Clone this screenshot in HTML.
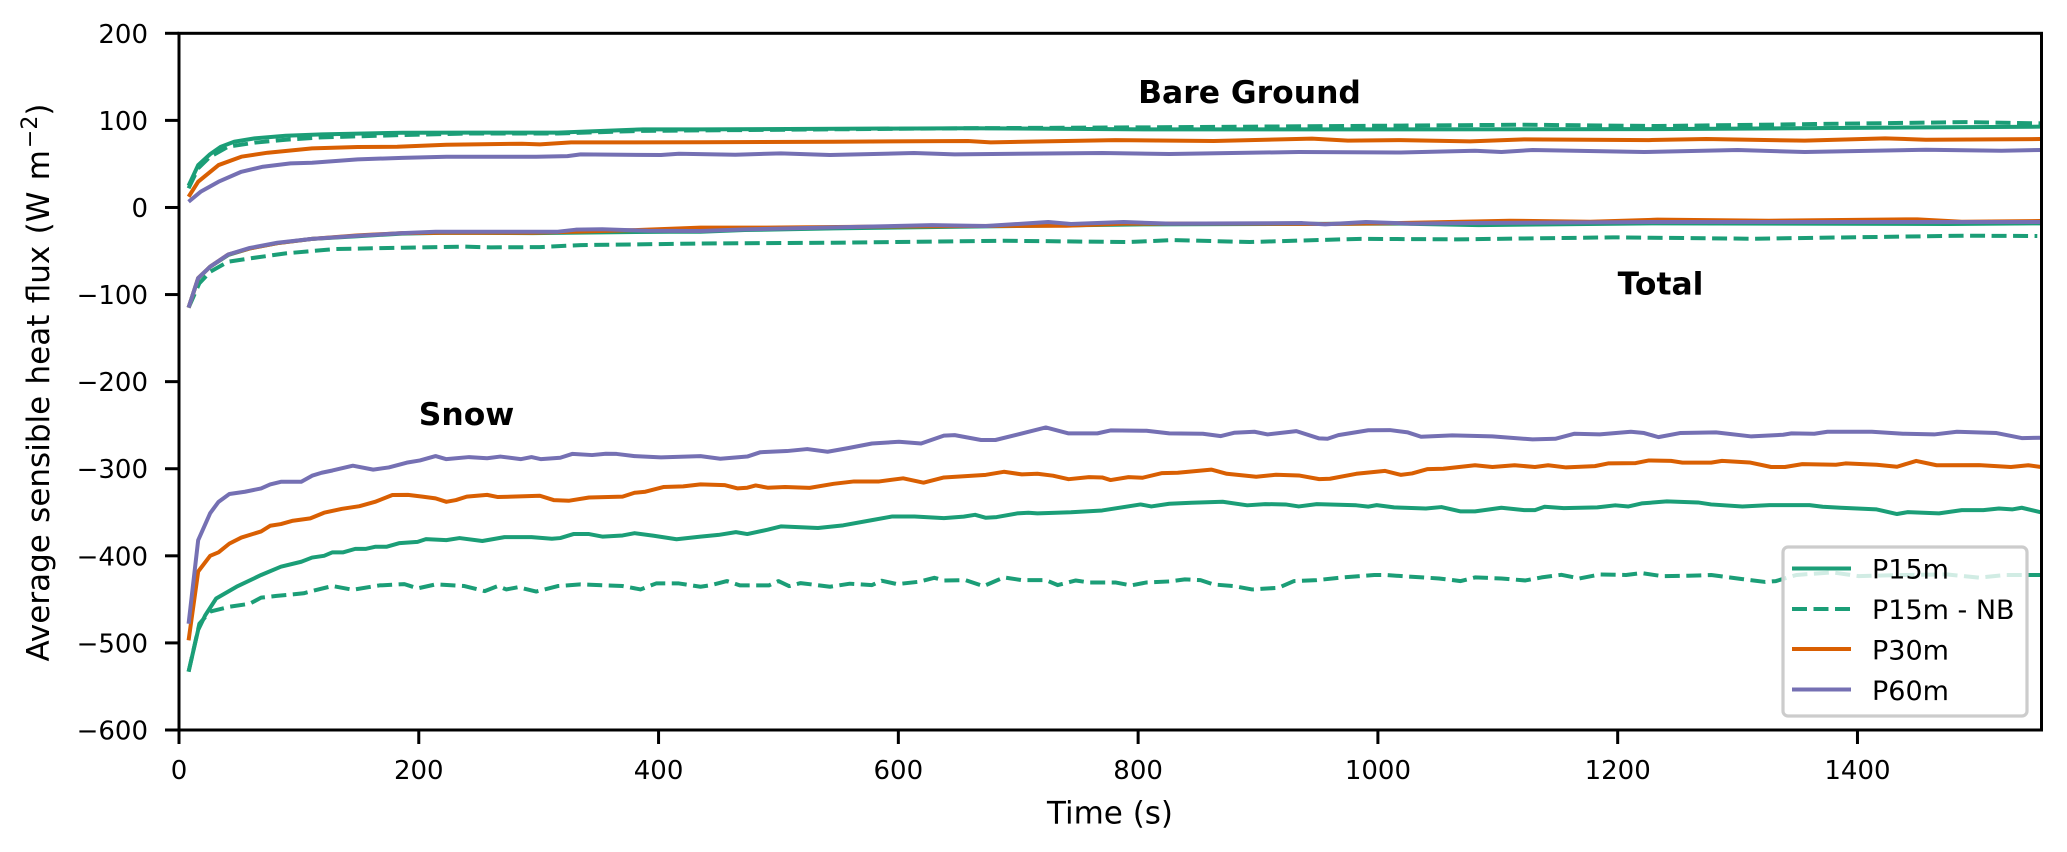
<!DOCTYPE html>
<html lang="en">
<head>
<meta charset="utf-8">
<title>Average sensible heat flux</title>
<style>
html,body{margin:0;padding:0;background:#fff;}
svg{display:block;}
text{font-family:"DejaVu Sans","Liberation Sans",sans-serif;fill:#000;}
</style>
</head>
<body>
<svg id="chart" xmlns="http://www.w3.org/2000/svg" width="2067" height="852" viewBox="0 0 2067 852">
  <defs><clipPath id="plot-clip"><rect x="179" y="33.3" width="1862.5" height="696.7"/></clipPath></defs>
  <rect x="0" y="0" width="2067" height="852" fill="#fff"/>
  <g id="series-layer" clip-path="url(#plot-clip)"></g>
  <g id="tick-layer"></g>
  <rect x="179" y="33.3" width="1862.5" height="696.7" fill="none" stroke="#000" stroke-width="3"/>
  <text x="1110" y="823.5" font-size="31" text-anchor="middle">Time (s)</text>
  <text transform="translate(49 382.5) rotate(-90)" font-size="31" word-spacing="1.5" text-anchor="middle">Average sensible heat flux (W m<tspan font-size="22" dx="2" dy="-12">−2</tspan><tspan dy="12">)</tspan></text>
  <g id="annotation-layer"></g>
  <g>
    <rect x="1783" y="547" width="244" height="169" rx="5" ry="5" fill="#fff" fill-opacity="0.8" stroke="#ccc" stroke-width="3.2"/>
    <g>
      <line x1="1792" y1="568.5" x2="1851" y2="568.5" stroke="#1b9e77" stroke-width="4"/>
      <text x="1872" y="578.5" font-size="27">P15m</text>
    </g>
    <g>
      <line x1="1792" y1="609" x2="1851" y2="609" stroke="#1b9e77" stroke-width="4" stroke-dasharray="15 6.5"/>
      <text x="1872" y="619" font-size="27">P15m - NB</text>
    </g>
    <g>
      <line x1="1792" y1="649" x2="1851" y2="649" stroke="#d95f02" stroke-width="4"/>
      <text x="1872" y="659.5" font-size="27">P30m</text>
    </g>
    <g>
      <line x1="1792" y1="689.5" x2="1851" y2="689.5" stroke="#7570b3" stroke-width="4"/>
      <text x="1872" y="700" font-size="27">P60m</text>
    </g>
  </g>
</svg>
<script>
const xTickLabels = [0, 200, 400, 600, 800, 1000, 1200, 1400];
const yTickLabels = [200, 100, 0, -100, -200, -300, -400, -500, -600];
const xDomain = [0, 1553.5];
const yDomain = [-600, 200];

/* Bare ground */
const bareP15Times = [8,16,26,35,46,63,89,119,186,242,316,387,435,658,807,1019,1233,1553];
const bareP15Values = [25,48.7,61.3,69.8,75.5,79.3,82.4,84,85.8,86,86,89.7,89.7,91,89.7,89.7,90,92.8];
const bareNbTimes = [8,16,26,41,63,89,119,186,242,316,387,435,658,807,1019,1122,1233,1364,1490,1553];
const bareNbValues = [22,45,58.3,69.8,74.4,77.8,80.5,83.2,85,85,88,88.5,91,92,94,95,93.5,95.8,98,96.6];
const bareP30Times = [8,16,33,52,74,111,149,182,223,286,301,327,435,546,658,677,781,863,945,975,1019,1077,1122,1226,1274,1356,1423,1457,1553];
const bareP30Values = [12.3,29.6,48.7,58.3,62.9,67.9,69.4,69.8,72,73.2,72.4,74.7,74.9,75.5,76.3,74.8,77.4,76.3,79,76.7,77.4,75.9,78.2,77.4,78.6,76.7,79.4,77.8,78.6];
const bareP60Times = [8,18,33,52,70,93,111,149,186,223,298,324,335,402,417,435,464,502,543,613,647,770,826,934,1019,1081,1103,1129,1222,1300,1356,1457,1520,1553];
const bareP60Values = [6.6,18,29.6,41,46.8,50.6,51.4,55.2,57,58.3,58.3,59,61,60.2,61.7,61.3,60.6,62.1,60.2,62.5,61,62.5,61.4,63.7,63.1,65.2,63.7,66,63.7,66,63.7,66.3,65.2,66];

/* Total */
const totalP15Times = [8,16,26,41,59,82,111,149,186,223,295,409,435,472,546,673,807,1019,1084,1230,1475,1553];
const totalP15Values = [-115,-81.4,-68,-54.6,-47,-41,-36,-33,-30,-29,-29.4,-27.8,-27.8,-25.9,-24,-21.7,-19.4,-18.6,-20.2,-18.2,-19,-18.2];
const totalNbTimes = [8,17,26,41,59,89,130,186,238,260,301,335,435,546,688,792,830,893,986,1066,1196,1312,1490,1550];
const totalNbValues = [-115,-87,-73.8,-62.3,-58.5,-52.7,-47.7,-46.2,-45,-45.8,-45.5,-43.2,-41.4,-40.5,-38.2,-39.7,-37.4,-39.7,-36,-36.6,-34.3,-35.9,-32.4,-32.8];
const totalP30Times = [8,16,26,41,59,82,111,149,186,223,295,380,435,490,584,658,740,788,882,956,1019,1110,1177,1233,1326,1450,1487,1553];
const totalP30Values = [-115,-81,-68,-54,-47,-41,-36,-32,-29.5,-29,-29,-26,-23.2,-23.2,-22,-21.3,-21,-18.6,-18.6,-19,-17.9,-15.2,-16.4,-14,-15.2,-13.6,-16.4,-15.6];
const totalP60Times = [8,16,26,41,59,82,111,149,186,214,268,316,331,353,391,435,472,546,628,673,725,744,788,826,937,956,990,1028,1077,1230,1364,1553];
const totalP60Values = [-115,-81,-68,-54,-46.5,-40.5,-36,-32.5,-29.5,-27.8,-27.8,-27.8,-25.5,-25,-26.7,-27,-25.1,-22.9,-20.2,-21.3,-16.7,-19,-16.7,-18.6,-17.9,-19.4,-16.7,-18.6,-17.9,-16.7,-16.7,-16.7];

/* Snow */
const snowP15Times = [8,16,22,31,48,68.5,85,102,111,121,128,137,147,156,163.5,173,184,199,206,223,234,253,271.5,294,311,318,329,342,353.5,370,380,396,415,435,450,464.5,474,491,502,533,554,578,595,613.5,638,654.5,664,673,682,699,708.5,716,744,770,802,811,826,844.5,870.5,891,906,923,934,949,982,992,999,1013.5,1040,1053,1069,1081,1103,1122,1131,1139,1155,1183,1198,1209,1220,1241,1267,1278,1304,1326.5,1360,1371,1386,1416,1433,1442,1468,1487,1505,1518,1529,1537,1553];
const snowP15Values = [-533,-485,-468,-449,-435.5,-422,-412.5,-406.8,-402,-400,-396,-396,-392,-392,-389.6,-389.6,-385.4,-384,-380.8,-382,-379.6,-383,-378.5,-378.5,-380.4,-379.6,-375,-375,-378,-376.6,-374,-377,-381,-378,-376,-372.8,-375,-370,-366.2,-368,-365,-359,-354.8,-354.8,-356.7,-355,-352.9,-356.3,-355.5,-351.3,-350.5,-351.3,-350,-347.9,-341,-343.3,-340.2,-339,-337.9,-342,-340.6,-341,-343.3,-340.6,-342,-343.5,-341.8,-344.4,-345.6,-344,-349,-349,-344.8,-347.5,-347.5,-343.7,-345.2,-344.4,-342,-343.3,-339.8,-337.5,-338.7,-341,-343.3,-341.8,-341.8,-343.7,-344.8,-346.7,-352,-349.8,-351.3,-347.5,-347.5,-345.6,-346.7,-344.8,-350];
const snowNbTimes = [8,17,26,42,59,68.5,81.5,104,115,128,145,167,188,199,214,238,255,266,273,283,298,316,335,357,370,385,398,417,435,444,457,468,492,500,509,518.5,543,559.5,578,586,599,617,630,638,656,671,688,703,723,733,748,759,781,794,807,826,839,852,863,880,895,917,930,949,971,997,1006,1028,1051,1069,1081,1103,1123,1136.5,1153,1168,1185,1207,1220,1237,1259,1278,1304,1323,1332,1349,1379,1401,1438,1475,1501.5,1524,1553];
const snowNbValues = [-533,-478,-464,-458.5,-455,-448,-446,-443,-439,-434.7,-439,-434,-432.5,-437.4,-432.8,-434.7,-440.5,-434.7,-438.6,-436,-441,-434.7,-432.8,-434,-434.7,-438.6,-431.7,-431.7,-435.5,-433.6,-429,-434,-434,-429,-434.8,-431.3,-435.5,-432,-433.6,-428.6,-432.5,-429.8,-425.2,-428.3,-427.9,-434.8,-424.8,-427.9,-427.9,-433.6,-428.3,-430.6,-430.6,-434,-430.6,-429.4,-427,-427.9,-432.9,-434.8,-438.6,-436.7,-429,-427.9,-424.8,-422,-422,-424,-426,-429,-424.8,-426,-428.3,-424.8,-421.8,-426,-421.4,-422,-419.8,-423.3,-422.9,-422,-426.7,-430,-429,-422,-419,-423.3,-422,-421.4,-425,-422,-422];
const snowP30Times = [8,16,26,33,42,52,68.5,76,85,95,109.5,121,136,150.5,163.5,178,191,203,214,223,231,240,257,266,301,312.5,325.5,342,370,380,389,404,420.5,435,455,466,474,481,491,505.5,526,546,563,584,604,621,638,658,673,688,703,716,729,742,759,770,777,792,803.5,820,833,861,874,898.5,915,934,951,960,982,1006,1019,1028.5,1041.5,1054.5,1081,1095.5,1114,1131,1142,1157,1181,1192,1215,1226,1244.5,1254,1278,1287,1310,1328,1339.5,1354,1382,1390,1416,1433,1449,1466,1501.5,1528,1542.5,1553];
const snowP30Values = [-497,-418,-400,-396,-386,-379,-372,-365.5,-363.5,-359.7,-357,-350.5,-346,-343,-338,-330.2,-330,-332,-334,-338,-336,-332,-330,-332.5,-331,-336,-336.7,-333,-332,-327.6,-326.4,-321,-320.3,-318,-318.8,-322.6,-321.8,-319.2,-321.8,-321,-322,-317.3,-314.6,-314.6,-311,-316,-310,-308.4,-307,-303.5,-306.5,-305.8,-308,-312,-309.6,-310,-313,-309.6,-310.4,-305,-304.6,-301,-305.8,-309.2,-306.9,-307.7,-311.9,-311.5,-305.8,-302.5,-307,-305.4,-300.4,-300,-296,-298,-296,-298,-296,-298.5,-297,-293.9,-293.5,-290.5,-291,-293,-293,-291,-292.8,-298,-298,-294.7,-295.4,-293.9,-295.4,-297.7,-291,-296,-295.8,-298,-296,-298];
const snowP60Times = [8,16,26,33,42,55,68.5,76,85,102,111,119,128,145,162,175,190,201,214,223,242,257,268,285,294,302,318,328,344.5,356,365,380,402,435,451.5,474,485,507,524,541,558,578,600.5,619,638,647,669,681,723,742,766,777,807,826,854,869,880,897,908,932,951,958,967,992,1010,1025,1036,1062,1095.5,1129,1148,1164,1185,1211,1222,1234,1252,1282,1311.5,1338,1345,1364,1375,1412,1438,1464,1483,1516,1537,1553];
const snowP60Values = [-478,-382,-351,-338,-329,-326.4,-322.6,-318,-315,-315,-308,-304.6,-302,-296.5,-301,-298.5,-293,-290.5,-285.5,-289,-286.6,-288,-286,-289,-286.6,-289,-287.4,-283,-284.3,-282.8,-283,-285.5,-287,-285.5,-288.5,-286,-281,-279.7,-277.4,-280.5,-276.3,-271,-269,-271,-262,-261.4,-267,-267,-252.6,-259.4,-259.4,-256,-256.4,-259.4,-259.8,-262.5,-258.7,-257.5,-260.6,-256.8,-265.2,-265.6,-261.4,-255.8,-255.6,-258.3,-263.3,-261.7,-262.9,-266.3,-265.6,-259.8,-260.6,-257.5,-259,-263.7,-259,-258.3,-262.9,-261,-259.4,-259.8,-257.5,-257.5,-259.8,-260.6,-257.5,-259,-264.8,-264.4];

const seriesColors = {p15: '#1b9e77', nb: '#1b9e77', p30: '#d95f02', p60: '#7570b3'};

const plotLeft = 179, plotRight = 2041.5, plotTop = 33.3, plotBottom = 730;
const xScale = t => plotLeft + (t - xDomain[0]) / (xDomain[1] - xDomain[0]) * (plotRight - plotLeft);
const yScale = v => plotBottom - (v - yDomain[0]) / (yDomain[1] - yDomain[0]) * (plotBottom - plotTop);

const NS = 'http://www.w3.org/2000/svg';
const seriesLayer = document.getElementById('series-layer');
const tickLayer = document.getElementById('tick-layer');
const annotationLayer = document.getElementById('annotation-layer');

function drawSeries(name, times, values, key, dashed) {
  const path = document.createElementNS(NS, 'path');
  
  
  path.setAttribute('d', times.map((t, i) => (i ? 'L' : 'M') + xScale(t).toFixed(2) + ' ' + yScale(values[i]).toFixed(2)).join(' '));
  path.setAttribute('fill', 'none');
  path.setAttribute('stroke', seriesColors[key]);
  path.setAttribute('stroke-width', '4');
  path.setAttribute('stroke-linejoin', 'round');
  if (dashed) path.setAttribute('stroke-dasharray', '15 6.5');
  seriesLayer.appendChild(path);
}

drawSeries('bare-ground-p15m-line', bareP15Times, bareP15Values, 'p15', false);
drawSeries('bare-ground-p15m-nb-line', bareNbTimes, bareNbValues, 'nb', true);
drawSeries('bare-ground-p30m-line', bareP30Times, bareP30Values, 'p30', false);
drawSeries('bare-ground-p60m-line', bareP60Times, bareP60Values, 'p60', false);
drawSeries('total-p15m-line', totalP15Times, totalP15Values, 'p15', false);
drawSeries('total-p15m-nb-line', totalNbTimes, totalNbValues, 'nb', true);
drawSeries('total-p30m-line', totalP30Times, totalP30Values, 'p30', false);
drawSeries('total-p60m-line', totalP60Times, totalP60Values, 'p60', false);
drawSeries('snow-p15m-line', snowP15Times, snowP15Values, 'p15', false);
drawSeries('snow-p15m-nb-line', snowNbTimes, snowNbValues, 'nb', true);
drawSeries('snow-p30m-line', snowP30Times, snowP30Values, 'p30', false);
drawSeries('snow-p60m-line', snowP60Times, snowP60Values, 'p60', false);

function formatTick(v) {
  return v < 0 ? '\u2212' + Math.abs(v) : String(v);
}

xTickLabels.forEach(v => {
  const x = xScale(v);
  const tick = document.createElementNS(NS, 'line');
  
  
  tick.setAttribute('x1', x);
  tick.setAttribute('x2', x);
  tick.setAttribute('y1', plotBottom);
  tick.setAttribute('y2', plotBottom + 14);
  tick.setAttribute('stroke', '#000');
  tick.setAttribute('stroke-width', '3');
  tickLayer.appendChild(tick);
  const label = document.createElementNS(NS, 'text');
  
  
  label.setAttribute('x', x);
  label.setAttribute('y', 779);
  label.setAttribute('font-size', '26');
  label.setAttribute('text-anchor', 'middle');
  label.textContent = formatTick(v);
  tickLayer.appendChild(label);
});

yTickLabels.forEach(v => {
  const y = yScale(v);
  const tick = document.createElementNS(NS, 'line');
  
  
  tick.setAttribute('x1', plotLeft - 14);
  tick.setAttribute('x2', plotLeft);
  tick.setAttribute('y1', y);
  tick.setAttribute('y2', y);
  tick.setAttribute('stroke', '#000');
  tick.setAttribute('stroke-width', '3');
  tickLayer.appendChild(tick);
  const label = document.createElementNS(NS, 'text');
  
  
  label.setAttribute('x', 148);
  label.setAttribute('y', y + 9.5);
  label.setAttribute('font-size', '26');
  label.setAttribute('text-anchor', 'end');
  label.textContent = formatTick(v);
  tickLayer.appendChild(label);
});

const regionNames = ['Bare Ground', 'Total', 'Snow'];
const regionTimes = [800, 1200, 200];
const regionFluxes = [120, -100, -250];
regionNames.forEach((text, i) => {
  const label = document.createElementNS(NS, 'text');
  
  
  label.setAttribute('x', xScale(regionTimes[i]));
  label.setAttribute('y', yScale(regionFluxes[i]));
  label.setAttribute('font-size', '31.4');
  label.setAttribute('font-weight', 'bold');
  label.textContent = text;
  annotationLayer.appendChild(label);
});
</script>
</body>
</html>
